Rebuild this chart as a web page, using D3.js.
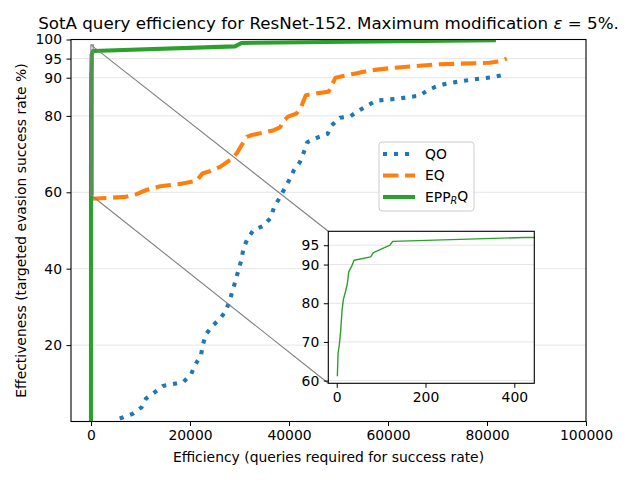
<!DOCTYPE html>
<html>
<head>
<meta charset="utf-8">
<script src="https://cdn.jsdelivr.net/npm/d3@7"></script>
<style>
  body { margin: 0; background: #fff; }
  svg { font-family: 'DejaVu Sans', sans-serif; }
</style>
</head>
<body>
<svg id="chart" width="640" height="480"></svg>
<script>
// QO series (queries, success rate %)
let qoX = [5800, 8400, 10200, 11100, 12900, 14500, 16600, 18700, 20200, 21000,
  22200, 22600, 23200, 24500, 26000, 27200, 28000, 29000, 30400, 30800,
  31600, 32800, 34800, 36300, 37000, 38000, 40000, 41000, 42200, 43000,
  43700, 45700, 47800, 48600, 50300, 52400, 54000, 55800, 57700, 62000,
  66300, 68300, 70300, 72500, 76900, 81000, 84000]
let qoY = [0.8, 2.0, 3.7, 6.0, 7.7, 9.3, 9.8, 10.4, 12.3, 14.8,
  17.2, 20.1, 22.8, 25.0, 26.8, 28.8, 31.6, 36.0, 42.4, 45.3,
  47.8, 50.1, 51.2, 53.3, 56.2, 58.3, 63.1, 65.8, 67.9, 70.5,
  73.1, 74.3, 75.3, 77.5, 79.5, 79.9, 81.3, 82.7, 84.0, 84.5,
  85.3, 86.9, 88.0, 88.6, 89.5, 90.1, 90.9]

// EQ series
let eqX = [0, 3000, 7000, 9200, 11200, 14000, 18000, 21300, 22500, 24000,
  26000, 28500, 29500, 30500, 31500, 32500, 34000, 36800, 38200, 38800,
  39800, 41500, 42500, 43400, 45500, 48000, 49400, 53000, 56400, 60400,
  70000, 80500, 82500, 84000]
let eqY = [58.3, 58.5, 58.8, 59.5, 60.6, 61.6, 62.2, 63.0, 64.9, 65.5,
  66.6, 68.8, 70.3, 72.5, 74.5, 75.0, 75.4, 76.2, 77.0, 78.5,
  79.8, 80.6, 82.5, 85.4, 85.9, 86.3, 90.0, 91.0, 91.9, 92.5,
  93.5, 93.9, 94.3, 95.0]

// EPP_RQ series
let eppX = [0, 1.4, 3, 6, 9, 12, 15, 19.5, 24, 27,
  34.5, 39, 76.5, 82.5, 120, 126, 422, 29100, 30400, 81800]
let eppY = [0, 61.1, 67.0, 69.4, 73.0, 78.2, 81.0, 82.9, 85.1, 88.1,
  89.8, 91.1, 92.0, 93.1, 95.0, 96.0, 97.0, 98.2, 99.1, 99.8]

let xTicks = [0, 20000, 40000, 60000, 80000, 100000]
let yTicks = [20, 40, 60, 80, 90, 95, 100]
let insetXTicks = [0, 200, 400]
let insetYTicks = [60, 70, 80, 90, 95]

let xDomain = [-4040, 100000]
let yDomain = [0, 100]
let insetXDomain = [-19, 445]
let insetYDomain = [59.3, 98.6]

let seriesNames = ['QO', 'EQ', 'EPP']

let colors = ['#1f77b4', '#ff7f0e', '#2ca02c']
let dashes = ['4.1,6.9', '15.4,6.7', null]
let lw = 4.1
let fs = 13.9

let svg = d3.select('#chart')
svg.append('rect').attr('width', 640).attr('height', 480).attr('fill', '#fff')

let margin = {top: 39.5, right: 54, bottom: 58.5, left: 71}
let width = 640 - margin.left - margin.right
let height = 480 - margin.top - margin.bottom

let x = d3.scaleLinear().domain(xDomain).range([0, width])
let y = d3.scaleLinear().domain(yDomain).range([height, 0])

let g = svg.append('g')
  .attr('transform', 'translate(' + margin.left + ',' + margin.top + ')')

svg.append('clipPath').attr('id', 'clipMain')
  .append('rect').attr('width', width).attr('height', height)

// horizontal grid
g.append('g').selectAll('line').data(yTicks).enter().append('line')
  .attr('x1', 0).attr('x2', width)
  .attr('y1', d => y(d)).attr('y2', d => y(d))
  .attr('stroke', '#e6e6e6').attr('stroke-width', 1)

let line = d3.line()
  .x(d => x(d[0]))
  .y(d => y(d[1]))

let series = [d3.zip(qoX, qoY), d3.zip(eqX, eqY), d3.zip(eppX, eppY)]

let lines = g.append('g').attr('clip-path', 'url(#clipMain)')
series.forEach((s, i) => {
  lines.append('path')
    .datum(s)
    .attr('fill', 'none')
    .attr('stroke', colors[i])
    .attr('stroke-width', lw)
    .attr('stroke-dasharray', dashes[i])
    .attr('stroke-linejoin', 'round')
    .attr('d', line)
})

// x axis
let xAxis = g.append('g')
  .attr('transform', 'translate(0,' + height + ')')
  .call(d3.axisBottom(x).tickValues(xTicks).tickSize(4.5).tickPadding(4.5)
    .tickFormat(d3.format('d')))
xAxis.select('.domain').remove()

// y axis
let yAxis = g.append('g')
  .call(d3.axisLeft(y).tickValues(yTicks).tickSize(4.5).tickPadding(4.5))
yAxis.select('.domain').remove()

g.selectAll('.tick text').attr('font-size', fs).attr('fill', '#000')
  .attr('font-family', 'DejaVu Sans')
g.selectAll('.tick line').attr('stroke', '#000').attr('stroke-width', 1)

// frame
g.append('rect')
  .attr('width', width).attr('height', height)
  .attr('fill', 'none').attr('stroke', '#000').attr('stroke-width', 1.1)

// inset position
let inset = {left: 328.3, top: 231.3, width: 206, height: 152}
let ix = d3.scaleLinear().domain(insetXDomain).range([0, inset.width])
let iy = d3.scaleLinear().domain(insetYDomain).range([inset.height, 0])

// zoom rectangle on main axes
g.append('rect')
  .attr('x', x(insetXDomain[0]))
  .attr('y', y(insetYDomain[1]))
  .attr('width', x(insetXDomain[1]) - x(insetXDomain[0]))
  .attr('height', y(insetYDomain[0]) - y(insetYDomain[1]))
  .attr('fill', 'none').attr('stroke', '#808080').attr('stroke-width', 1.1)

// connector lines (upper-left and lower-left corners)
let corners = [
  [insetYDomain[1], inset.top],
  [insetYDomain[0], inset.top + inset.height]
]
svg.append('g').selectAll('line').data(corners).enter().append('line')
  .attr('x1', margin.left + x(insetXDomain[0]))
  .attr('y1', d => margin.top + y(d[0]))
  .attr('x2', inset.left)
  .attr('y2', d => d[1])
  .attr('stroke', '#808080').attr('stroke-width', 1.1)

// inset axes
let gi = svg.append('g')
  .attr('transform', 'translate(' + inset.left + ',' + inset.top + ')')

gi.append('rect').attr('width', inset.width).attr('height', inset.height)
  .attr('fill', '#fff')

svg.append('clipPath').attr('id', 'clipInset')
  .append('rect').attr('width', inset.width).attr('height', inset.height)

gi.append('g').selectAll('line').data(insetYTicks).enter().append('line')
  .attr('x1', 0).attr('x2', inset.width)
  .attr('y1', d => iy(d)).attr('y2', d => iy(d))
  .attr('stroke', '#e6e6e6').attr('stroke-width', 1)

let iline = d3.line()
  .x(d => ix(d[0]))
  .y(d => iy(d[1]))

gi.append('g').attr('clip-path', 'url(#clipInset)')
  .append('path')
  .datum(series[2].filter(d => d[1] >= insetYDomain[0]))
  .attr('fill', 'none')
  .attr('stroke', colors[2])
  .attr('stroke-width', 1.4)
  .attr('stroke-linejoin', 'round')
  .attr('d', iline)

let ixAxis = gi.append('g')
  .attr('transform', 'translate(0,' + inset.height + ')')
  .call(d3.axisBottom(ix).tickValues(insetXTicks).tickSize(4.5).tickPadding(4.5))
ixAxis.select('.domain').remove()
let iyAxis = gi.append('g')
  .call(d3.axisLeft(iy).tickValues(insetYTicks).tickSize(4.5).tickPadding(4.5))
iyAxis.select('.domain').remove()

gi.selectAll('.tick text').attr('font-size', fs).attr('fill', '#000')
  .attr('font-family', 'DejaVu Sans')
gi.selectAll('.tick line').attr('stroke', '#000').attr('stroke-width', 1)

gi.append('rect')
  .attr('width', inset.width).attr('height', inset.height)
  .attr('fill', 'none').attr('stroke', '#000').attr('stroke-width', 1.1)

// legend
let legend = svg.append('g').attr('transform', 'translate(379,142)')
legend.append('rect')
  .attr('width', 95).attr('height', 69).attr('rx', 3)
  .attr('fill', '#fff').attr('fill-opacity', 0.8)
  .attr('stroke', '#cccccc')

let rows = legend.selectAll('g.row').data(seriesNames).enter().append('g')
  .attr('transform', (d, i) => 'translate(0,' + (12 + i * 21.5) + ')')
rows.append('line')
  .attr('x1', 4).attr('x2', 36)
  .attr('stroke', (d, i) => colors[i])
  .attr('stroke-width', lw)
  .attr('stroke-dasharray', (d, i) => dashes[i])
let labels = rows.append('text')
  .attr('x', 46).attr('dy', '0.35em')
  .attr('font-size', fs)
  .text(d => d)
labels.filter(d => d === 'EPP').each(function () {
  let t = d3.select(this)
  t.append('tspan').attr('font-style', 'italic').attr('font-size', 9.7)
    .attr('dy', '0.25em').text('R')
  t.append('tspan').attr('dy', '-0.25em').attr('font-size', fs).text('Q')
})

// title
let title = svg.append('text')
  .attr('x', margin.left + width / 2).attr('y', 29)
  .attr('text-anchor', 'middle').attr('font-size', 16.7)
  .text('SotA query efficiency for ResNet-152. Maximum modification ')
title.append('tspan').attr('font-style', 'italic').text('ε')
title.append('tspan').text(' = 5%.')

// axis labels
svg.append('text')
  .attr('x', margin.left + width / 2).attr('y', 462)
  .attr('text-anchor', 'middle').attr('font-size', fs)
  .text('Efficiency (queries required for success rate)')

svg.append('text')
  .attr('transform', 'translate(21,' + (margin.top + height / 2) + ') rotate(-90)')
  .attr('text-anchor', 'middle').attr('dy', '0.35em').attr('font-size', fs)
  .text('Effectiveness (targeted evasion success rate %)')
</script>
</body>
</html>
